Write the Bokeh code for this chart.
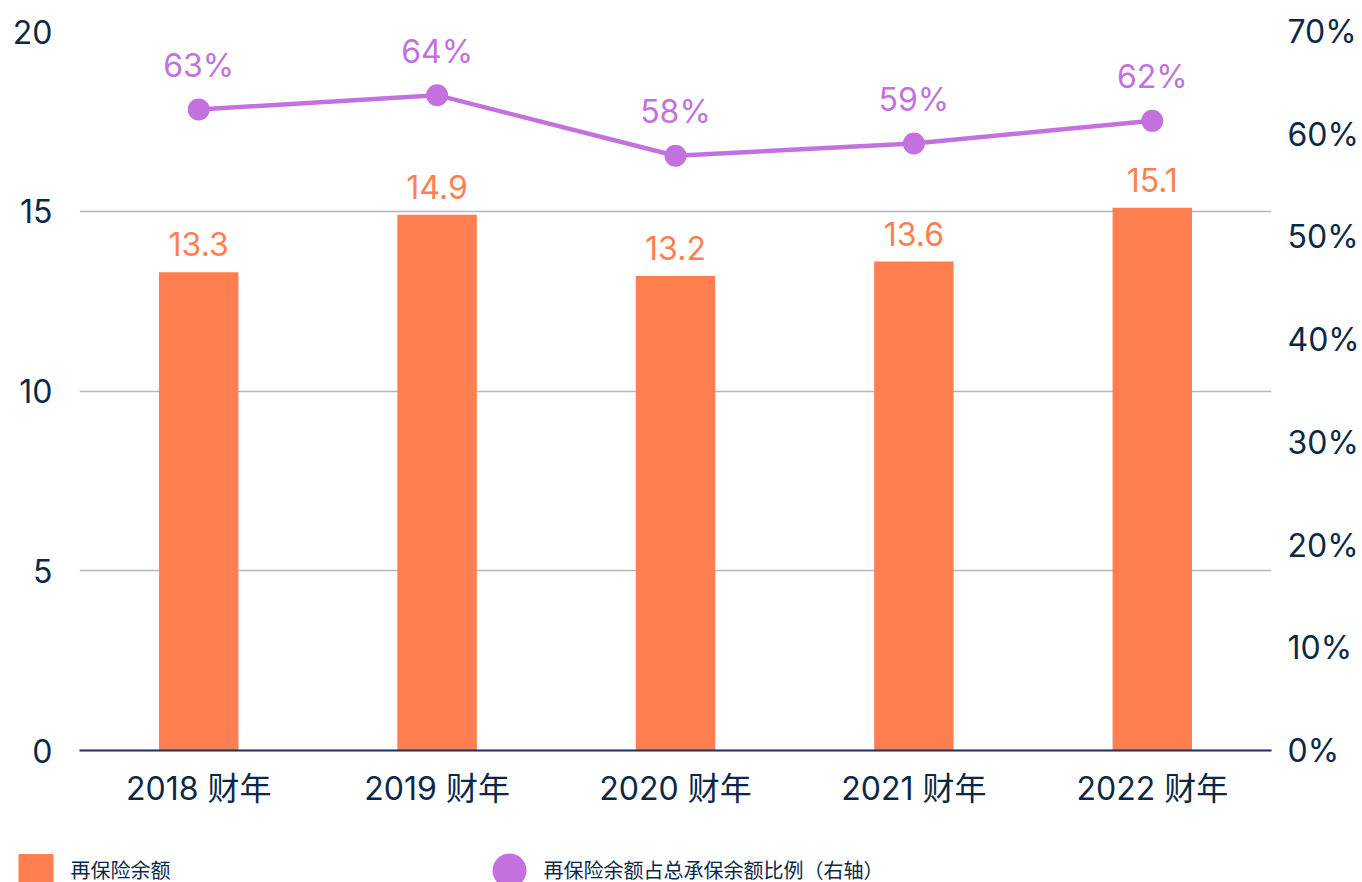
from bokeh.plotting import figure
from bokeh.layouts import column
from bokeh.models import (Range1d, FactorRange, LinearAxis, FixedTicker,
                          ColumnDataSource, PrintfTickFormatter)
from bokeh.core.properties import value
from bokeh.embed import file_html
from bokeh.resources import INLINE

# ---- data ----
years = ["2018 财年", "2019 财年", "2020 财年", "2021 财年", "2022 财年"]
reinsurance = [13.3, 14.9, 13.2, 13.6, 15.1]
reinsurance_labels = ["13.3", "14.9", "13.2", "13.6", "15.1"]
ratio = [62.4, 63.8, 57.9, 59.1, 61.3]
ratio_labels = ["63%", "64%", "58%", "59%", "62%"]
left_ticks = [0, 5, 10, 15, 20]
right_ticks = [0, 10, 20, 30, 40, 50, 60, 70]
bar_name = "再保险余额"
line_name = "再保险余额占总承保余额比例（右轴）"

FONT = "Inter, 'Noto Sans CJK SC', sans-serif"
CJK = "'Noto Sans CJK SC', sans-serif"
NAVY = "#0c2847"
ORANGE = "#ff7f50"
PURPLE = "#c471e0"
GRID = "#aeb8c3"
FS = "32px"

src = ColumnDataSource(dict(x=years, v=reinsurance, vl=reinsurance_labels,
                            r=ratio, rl=ratio_labels))

p = figure(width=1362, height=820, x_range=FactorRange(factors=years),
           y_range=Range1d(0, 20), output_backend="svg", toolbar_location=None,
           min_border_left=79, min_border_right=83, min_border_top=31, min_border_bottom=70)
p.frame_align = False
p.outline_line_color = None
p.background_fill_color = "white"
p.border_fill_color = "white"
p.extra_y_ranges = {"pct": Range1d(0, 70)}

p.vbar(x="x", top="v", width=1/3, source=src, color=ORANGE, line_color=None)
p.text(x="x", y="v", text="vl", source=src, text_align="center", text_baseline="alphabetic",
       y_offset=-28, text_font=value(FONT), text_font_size=FS, text_color=ORANGE)

p.line(x="x", y="r", source=src, y_range_name="pct", line_color=PURPLE, line_width=4.5)
p.scatter(x="x", y="r", source=src, y_range_name="pct", size=22,
          fill_color=PURPLE, line_color=None)
p.text(x="x", y="r", text="rl", source=src, y_range_name="pct", text_align="center",
       text_baseline="alphabetic", y_offset=-44, text_font=value(FONT),
       text_font_size=FS, text_color=PURPLE)

# grid
p.xgrid.grid_line_color = None
p.ygrid.ticker = FixedTicker(ticks=left_ticks)
p.ygrid.grid_line_color = GRID
p.ygrid.grid_line_width = 1.3

# left axis
ya = p.yaxis[0]
ya.ticker = FixedTicker(ticks=left_ticks)
ya.axis_line_color = None
ya.major_tick_line_color = None
ya.minor_tick_line_color = None
ya.major_label_standoff = 21
ya.major_label_text_font = FONT
ya.major_label_text_font_size = FS
ya.major_label_text_color = NAVY

# bottom axis
xa = p.xaxis[0]
xa.axis_line_color = "#15305a"
xa.axis_line_width = 2
xa.major_tick_line_color = None
xa.minor_tick_line_color = None
xa.major_label_standoff = 12
xa.major_label_text_font = FONT
xa.major_label_text_font_size = FS
xa.major_label_text_color = NAVY

# right axis
ra = LinearAxis(y_range_name="pct", ticker=FixedTicker(ticks=right_ticks),
                formatter=PrintfTickFormatter(format="%d%%"))
ra.axis_line_color = None
ra.major_tick_line_color = None
ra.minor_tick_line_color = None
ra.major_label_standoff = 10
ra.major_label_text_font = FONT
ra.major_label_text_font_size = FS
ra.major_label_text_color = NAVY
p.add_layout(ra, "right")

# ---- legend strip (pixel coordinates, y measured from the strip's top) ----
STRIP_H = 62
lp = figure(width=1362, height=STRIP_H, x_range=Range1d(0, 1362), y_range=Range1d(STRIP_H, 0),
            output_backend="svg", toolbar_location=None, min_border=0,
            x_axis_location=None, y_axis_location=None)
lp.frame_align = False
lp.outline_line_color = None
lp.grid.visible = False
lp.border_fill_color = "white"

key_y = 50
lp.scatter(x=[35.5], y=[key_y + 1], marker="square", size=35, fill_color=ORANGE, line_color=None)
lp.text(x=[70], y=[key_y - 1], text=[bar_name], text_baseline="middle", text_align="left",
        text_font=value(CJK), text_font_size="20px", text_color=NAVY)
lp.scatter(x=[509], y=[key_y], marker="circle", size=34, fill_color=PURPLE, line_color=None)
lp.text(x=[543], y=[key_y - 1], text=[line_name], text_baseline="middle", text_align="left",
        text_font=value(CJK), text_font_size="20px", text_color=NAVY)

layout = column(p, lp, spacing=0)
open("out.html", "w").write(file_html(layout, INLINE))
